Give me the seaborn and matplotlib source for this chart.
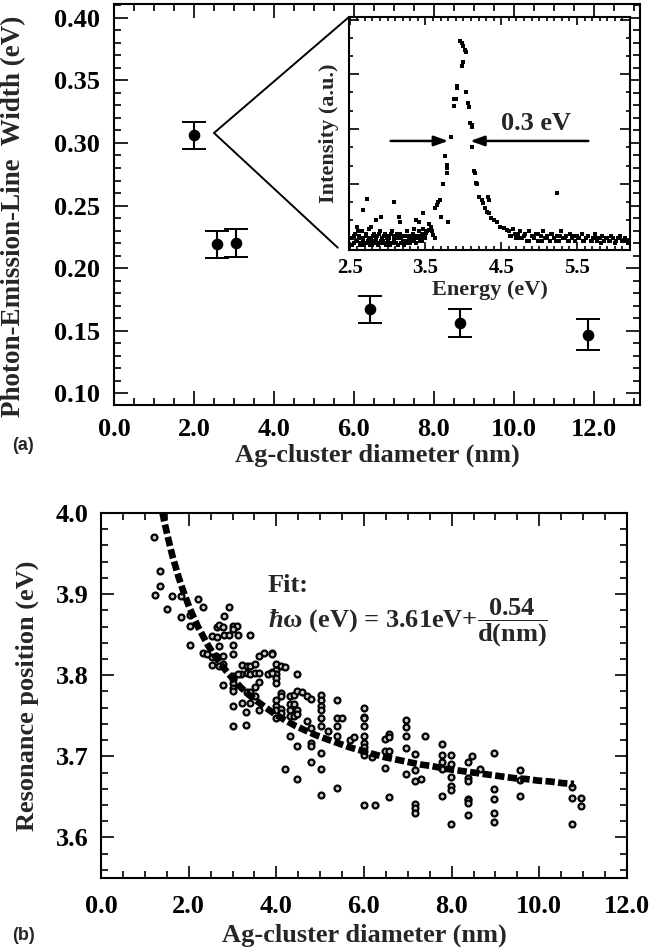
import numpy as np
import pandas as pd
import matplotlib
matplotlib.use("Agg")
import matplotlib.pyplot as plt
import seaborn as sns
from matplotlib.patches import ConnectionPatch
from matplotlib.ticker import MultipleLocator, FixedLocator, FormatStrFormatter

# ---------------- data ----------------
# panel (a): linewidth vs cluster diameter
diam_a = [2.00, 2.57, 3.05, 6.40, 8.65, 11.85]
width_a = [0.306, 0.219, 0.220, 0.167, 0.156, 0.147]
err_a = [0.0105, 0.011, 0.011, 0.011, 0.011, 0.012]

# inset: emission spectrum (energy eV, intensity a.u.)
spec_E = [3.96, 3.98, 4.00, 4.02, 4.03, 3.99, 3.98, 3.91, 3.92, 4.03, 3.88, 3.90, 4.06, 4.07,
          3.87, 4.09, 4.11, 4.12, 3.84, 4.12, 3.76, 3.78, 3.79, 3.78, 3.73, 4.14, 4.16, 4.17,
          4.18, 3.69, 3.67, 3.65, 3.63, 4.21, 4.24, 4.26, 4.33, 4.34, 4.28, 4.31, 4.34, 4.37,
          4.40, 4.44, 4.48, 4.53, 4.57, 3.80, 3.57, 3.54, 3.51, 3.47, 3.38, 3.42, 3.60, 3.62,
          3.15, 3.16, 3.08, 2.91, 2.85, 2.68, 2.73, 5.23, 2.60, 2.78, 3.35, 3.55, 3.58, 3.70]
spec_I = [0.895, 0.888, 0.874, 0.857, 0.848, 0.809, 0.791, 0.705, 0.695, 0.676, 0.648, 0.648,
          0.630, 0.613, 0.616, 0.547, 0.537, 0.526, 0.484, 0.444, 0.404, 0.365, 0.351, 0.332,
          0.284, 0.337, 0.330, 0.289, 0.284, 0.215, 0.208, 0.193, 0.179, 0.229, 0.215, 0.201,
          0.229, 0.215, 0.179, 0.165, 0.158, 0.136, 0.129, 0.122, 0.100, 0.093, 0.086, 0.122,
          0.097, 0.086, 0.072, 0.158, 0.129, 0.122, 0.064, 0.050, 0.143, 0.122, 0.208, 0.143,
          0.129, 0.172, 0.218, 0.244, 0.100, 0.100, 0.090, 0.110, 0.080, 0.140]
base_left_E = [2.52, 2.55, 2.57, 2.60, 2.62, 2.64, 2.66, 2.68, 2.70, 2.72, 2.74, 2.76, 2.78,
               2.80, 2.82, 2.84, 2.86, 2.88, 2.90, 2.92, 2.94, 2.96, 2.98, 3.00, 3.02, 3.04,
               3.06, 3.08, 3.10, 3.12, 3.14, 3.16, 3.18, 3.20, 3.22, 3.24, 3.26, 3.28, 3.30,
               3.32, 3.34, 3.36, 3.38, 3.40, 3.42, 3.44, 3.46, 3.48, 3.50,
               2.53, 2.56, 2.58, 2.61, 2.63, 2.65, 2.67, 2.69, 2.71, 2.73, 2.75, 2.77, 2.79,
               2.81, 2.83, 2.85, 2.87, 2.89, 2.91, 2.93, 2.95, 2.97, 2.99, 3.01, 3.03, 3.05,
               3.07, 3.09, 3.11, 3.13, 3.15, 3.17, 3.19, 3.21, 3.23, 3.25, 3.27, 3.29, 3.31,
               3.33, 3.35, 3.37, 3.39, 3.41, 3.43, 3.45, 3.47, 3.49, 3.52]
base_left_I = [0.05, 0.03, 0.07, 0.04, 0.06, 0.02, 0.08, 0.05, 0.03, 0.06, 0.04, 0.09, 0.05,
               0.02, 0.07, 0.04, 0.06, 0.03, 0.08, 0.05, 0.04, 0.07, 0.02, 0.06, 0.05, 0.03,
               0.08, 0.04, 0.06, 0.05, 0.02, 0.07, 0.05, 0.04, 0.06, 0.03, 0.08, 0.05, 0.06,
               0.04, 0.07, 0.05, 0.03, 0.06, 0.08, 0.05, 0.04, 0.07, 0.06,
               0.02, 0.06, 0.04, 0.08, 0.03, 0.05, 0.04, 0.02, 0.07, 0.03, 0.05, 0.02, 0.04,
               0.06, 0.03, 0.05, 0.02, 0.07, 0.04, 0.03, 0.06, 0.03, 0.05, 0.04, 0.02, 0.07,
               0.03, 0.05, 0.03, 0.07, 0.05, 0.03, 0.06, 0.02, 0.04, 0.06, 0.04, 0.03, 0.05,
               0.07, 0.04, 0.03, 0.06, 0.05, 0.04, 0.07, 0.09, 0.05, 0.08]
base_right_E = [4.60, 4.63, 4.66, 4.69, 4.72, 4.75, 4.78, 4.81, 4.84, 4.87, 4.90, 4.93, 4.96,
                4.99, 5.02, 5.05, 5.08, 5.11, 5.14, 5.17, 5.20, 5.23, 5.26, 5.29, 5.32, 5.35,
                5.38, 5.41, 5.44, 5.47, 5.50, 5.53, 5.56, 5.59, 5.62, 5.65, 5.68, 5.71, 5.74,
                5.77, 5.80, 5.83, 5.86, 5.89, 5.92, 5.95, 5.98, 6.01, 6.04, 6.07, 6.10, 6.13,
                6.16, 4.62, 4.68, 4.74, 4.80, 4.86, 4.92, 4.98, 5.04, 5.10, 5.16, 5.22, 5.28,
                5.34, 5.40, 5.46, 5.52, 5.58, 5.64, 5.70, 5.76, 5.82, 5.88, 5.94, 6.00, 6.06,
                6.12, 6.18]
base_right_I = [0.08, 0.06, 0.09, 0.05, 0.07, 0.08, 0.05, 0.07, 0.04, 0.08, 0.06, 0.05, 0.07,
                0.04, 0.06, 0.08, 0.05, 0.06, 0.04, 0.07, 0.05, 0.06, 0.04, 0.08, 0.05, 0.06,
                0.04, 0.07, 0.05, 0.04, 0.06, 0.05, 0.07, 0.04, 0.05, 0.06, 0.04, 0.05, 0.07,
                0.04, 0.05, 0.06, 0.04, 0.05, 0.04, 0.06, 0.05, 0.04, 0.05, 0.06, 0.04, 0.05,
                0.04, 0.06, 0.07, 0.05, 0.06, 0.04, 0.06, 0.07, 0.04, 0.05, 0.07, 0.04, 0.06,
                0.05, 0.04, 0.06, 0.05, 0.04, 0.06, 0.04, 0.05, 0.03, 0.05, 0.04, 0.03, 0.05,
                0.04, 0.03]
fwhm_lo, fwhm_hi, half_max = 3.80, 4.09, 0.468

# panel (b): resonance position vs diameter
diam_b = [1.21, 1.34, 1.34, 1.23, 1.51, 1.62, 1.82, 1.82, 2.02, 2.02, 2.22, 2.33, 2.02, 2.91,
          2.81, 2.64, 2.70, 2.79, 3.01, 3.11, 3.02, 2.81, 2.92, 3.13, 3.41, 2.54, 2.64, 2.70,
          3.02, 3.02, 2.33, 2.42, 2.54, 2.63, 2.79, 2.53, 2.79, 2.70, 2.79, 3.02, 3.02, 3.02,
          3.02, 3.02, 3.02, 3.02, 3.22, 3.32, 3.41, 3.51, 3.32, 3.41, 3.51, 3.61, 3.19, 3.12,
          3.61, 3.71, 3.89, 3.81, 3.89, 3.61, 3.51, 3.32, 3.41, 3.51, 3.22, 3.41, 3.30, 3.61,
          3.30,
          3.90, 3.99, 3.99, 3.99, 3.99, 3.99, 4.11, 4.20, 3.90, 4.11, 4.11, 3.99, 3.99, 3.99,
          3.99, 4.11, 4.11, 4.31, 4.41, 4.48, 4.58, 4.69, 4.79, 4.48, 4.31, 4.41, 4.31, 4.48,
          4.31, 4.41, 4.48, 4.31, 4.48, 4.69, 4.79, 4.79, 4.79, 4.79, 4.20, 4.48, 5.01, 5.01,
          5.01, 5.01, 5.01, 5.01, 5.01, 5.01, 5.01, 5.17, 5.39, 5.39, 5.49, 5.39, 5.39, 5.39,
          5.67, 5.78, 5.99, 5.99, 5.99, 5.99, 5.99, 5.99, 5.99, 5.99, 5.99, 5.99, 6.25, 6.19,
          6.48, 6.58, 6.58, 6.48, 6.58, 6.48, 6.58, 6.96, 6.96, 6.96, 6.96, 6.96, 7.17, 7.17,
          7.17, 7.17, 7.17, 7.17, 7.29, 7.40, 7.77, 7.77, 7.77, 7.77, 7.77,
          7.98, 7.98, 7.98, 7.98, 7.98, 7.98, 8.37, 8.37, 8.37, 8.37, 8.37, 8.37, 8.37, 8.46,
          8.64, 8.96, 8.96, 8.96, 8.96, 8.96, 9.55, 9.55, 9.55, 10.74, 10.74, 10.74, 10.95,
          10.95]
res_b = [3.970, 3.929, 3.910, 3.899, 3.882, 3.898, 3.898, 3.872, 3.874, 3.861, 3.894, 3.884,
         3.837, 3.884, 3.873, 3.860, 3.862, 3.860, 3.861, 3.861, 3.857, 3.850, 3.850, 3.849,
         3.849, 3.848, 3.847, 3.836, 3.837, 3.826, 3.827, 3.826, 3.823, 3.824, 3.824, 3.812,
         3.814, 3.811, 3.788, 3.799, 3.795, 3.790, 3.784, 3.780, 3.762, 3.738, 3.812, 3.811,
         3.811, 3.814, 3.803, 3.801, 3.803, 3.803, 3.801, 3.801, 3.824, 3.827, 3.827, 3.802,
         3.804, 3.792, 3.785, 3.779, 3.779, 3.774, 3.766, 3.766, 3.755, 3.757, 3.739,
         3.826, 3.814, 3.807, 3.802, 3.796, 3.790, 3.811, 3.810, 3.803, 3.778, 3.775, 3.770,
         3.762, 3.757, 3.747, 3.758, 3.753, 3.775, 3.776, 3.781, 3.779, 3.775, 3.771, 3.801,
         3.764, 3.764, 3.757, 3.757, 3.750, 3.750, 3.752, 3.725, 3.713, 3.743, 3.735, 3.717,
         3.713, 3.693, 3.684, 3.672, 3.776, 3.770, 3.762, 3.757, 3.747, 3.738, 3.704, 3.684,
         3.652, 3.731, 3.770, 3.747, 3.747, 3.738, 3.725, 3.661, 3.720, 3.724, 3.759, 3.749,
         3.747, 3.738, 3.725, 3.716, 3.711, 3.706, 3.702, 3.640, 3.640, 3.699, 3.721, 3.728,
         3.724, 3.686, 3.650, 3.706, 3.706, 3.745, 3.736, 3.725, 3.710, 3.678, 3.703, 3.683,
         3.670, 3.641, 3.636, 3.630, 3.672, 3.725, 3.715, 3.702, 3.693, 3.684, 3.651,
         3.702, 3.691, 3.675, 3.664, 3.658, 3.617, 3.693, 3.673, 3.669, 3.648, 3.646, 3.642,
         3.628, 3.701, 3.684, 3.704, 3.660, 3.648, 3.630, 3.619, 3.683, 3.671, 3.651, 3.662,
         3.649, 3.617, 3.649, 3.639]

# fit curve
fit_d = [1.40, 1.45, 1.51, 1.57, 1.63, 1.70, 1.77, 1.85, 1.93, 2.02, 2.11, 2.21, 2.32, 2.44,
         2.57, 2.71, 2.86, 3.02, 3.19, 3.37, 3.56, 3.76, 3.97, 4.19, 4.42, 4.66, 4.91, 5.16,
         5.42, 5.68, 5.94, 6.20, 6.47, 6.74, 7.01, 7.28, 7.55, 7.82, 8.09, 8.36, 8.63, 8.90,
         9.17, 9.44, 9.71, 9.98, 10.25, 10.52, 10.79]
fit_E = [4.001, 3.988, 3.974, 3.960, 3.947, 3.934, 3.921, 3.908, 3.896, 3.883, 3.872, 3.860,
         3.849, 3.837, 3.826, 3.815, 3.805, 3.795, 3.785, 3.776, 3.768, 3.760, 3.752, 3.745,
         3.738, 3.732, 3.726, 3.721, 3.716, 3.711, 3.707, 3.703, 3.699, 3.696, 3.693, 3.690,
         3.688, 3.685, 3.683, 3.681, 3.679, 3.677, 3.675, 3.673, 3.672, 3.670, 3.669, 3.667,
         3.666]

# ---------------- style ----------------
sns.set_theme(style="ticks")
plt.rcParams['font.family'] = ['Liberation Serif', 'DejaVu Serif']
plt.rcParams['font.weight'] = 'bold'
plt.rcParams['axes.labelweight'] = 'bold'
plt.rcParams['mathtext.fontset'] = 'custom'
plt.rcParams['mathtext.rm'] = 'Liberation Serif:bold'
plt.rcParams['mathtext.it'] = 'Liberation Serif:bold:italic'
plt.rcParams['mathtext.bf'] = 'Liberation Serif:bold'
plt.rcParams['axes.linewidth'] = 1.5
plt.rcParams['axes.edgecolor'] = 'black'
plt.rcParams['xtick.color'] = 'black'
plt.rcParams['ytick.color'] = 'black'

W, H = 652, 952
fig = plt.figure(figsize=(W / 100, H / 100), dpi=100)


def rect(l, t, r, b):
    return [l / W, 1 - b / H, (r - l) / W, (b - t) / H]


ax_a = fig.add_axes(rect(114, 4, 640, 405))
ax_in = fig.add_axes(rect(349, 17, 630, 250))
ax_b = fig.add_axes(rect(101, 513, 627, 878))

TICK_FS = 19
LAB_FS = 19


def style_ticks(ax, fs, maj=9, mino=5, xpad=10, ypad=10):
    ax.tick_params(which='both', direction='in', top=True, right=True, colors='black',
                   width=1.2)
    ax.tick_params(which='major', length=maj, labelsize=fs)
    ax.tick_params(axis='x', which='major', pad=xpad)
    ax.tick_params(axis='y', which='major', pad=ypad)
    ax.tick_params(which='minor', length=mino)
    for lab in ax.get_xticklabels() + ax.get_yticklabels():
        lab.set_fontweight('bold')
    for sp in ax.spines.values():
        sp.set_visible(True)
        sp.set_linewidth(1.5)
        sp.set_color('black')


# ---------------- panel (a) ----------------
dfa = pd.DataFrame({'d': diam_a, 'w': width_a, 'e': err_a})
ax_a.errorbar(dfa['d'], dfa['w'], yerr=dfa['e'], fmt='none', ecolor='black',
              elinewidth=1.5, capsize=8.5, capthick=1.4)
sns.scatterplot(data=dfa, x='d', y='w', ax=ax_a, color='black', s=70, marker='o',
                edgecolor='black', linewidth=0, zorder=3, legend=False)
ax_a.set_xlim(0, 13.15)
ax_a.set_ylim(0.0907, 0.411)
ax_a.xaxis.set_major_locator(MultipleLocator(2))
ax_a.xaxis.set_minor_locator(MultipleLocator(0.5))
ax_a.yaxis.set_major_locator(MultipleLocator(0.05))
ax_a.yaxis.set_minor_locator(MultipleLocator(0.01))
ax_a.xaxis.set_major_formatter(FormatStrFormatter('%.1f'))
ax_a.yaxis.set_major_formatter(FormatStrFormatter('%.2f'))
ax_a.set_xlabel('Ag-cluster diameter (nm)', fontsize=LAB_FS, fontweight='bold', labelpad=2)
ax_a.set_ylabel('Photon-Emission-Line  Width (eV)', fontsize=19.5, fontweight='bold')
ax_a.yaxis.set_label_coords(-0.168, 0.47)
style_ticks(ax_a, TICK_FS, maj=10, mino=5, xpad=9, ypad=10)

# ---------------- inset ----------------
dfs = pd.DataFrame({'E': spec_E + base_left_E + base_right_E,
                    'I': spec_I + base_left_I + base_right_I})
sns.scatterplot(data=dfs, x='E', y='I', ax=ax_in, color='black', marker='s', s=8,
                linewidth=0, legend=False)
ax_in.set_xlim(2.49, 6.2)
ax_in.set_ylim(0, 1.0)
ax_in.xaxis.set_major_locator(FixedLocator([2.5, 3.5, 4.5, 5.5]))
ax_in.xaxis.set_minor_locator(MultipleLocator(0.1))
ax_in.xaxis.set_major_formatter(FormatStrFormatter('%.1f'))
ax_in.yaxis.set_major_locator(FixedLocator([0.049, 0.284, 0.519, 0.754, 0.989]))
ax_in.yaxis.set_minor_locator(FixedLocator([0.127, 0.206, 0.362, 0.441, 0.597, 0.676,
                                            0.832, 0.911]))
ax_in.set_yticklabels([])
ax_in.set_xlabel('Energy (eV)', fontsize=16, fontweight='bold', labelpad=1)
ax_in.set_ylabel('Intensity (a.u.)', fontsize=16, fontweight='bold', labelpad=1)
style_ticks(ax_in, 15, maj=6, mino=3, xpad=6, ypad=6)
ax_in.tick_params(axis='y', which='major', length=7)
ax_in.patch.set_facecolor('white')
ax_in.annotate('', xy=(fwhm_lo, half_max), xytext=(3.04, half_max),
               arrowprops=dict(arrowstyle='-|>,head_length=0.7,head_width=0.25',
                               color='black', lw=1.8, shrinkA=0, shrinkB=0))
ax_in.annotate('', xy=(fwhm_hi, half_max), xytext=(5.65, half_max),
               arrowprops=dict(arrowstyle='-|>,head_length=0.7,head_width=0.25',
                               color='black', lw=1.8, shrinkA=0, shrinkB=0))
ax_in.text(4.96, 0.545, '0.3 eV', fontsize=19, fontweight='bold', ha='center', va='center')

# connecting "V" lines
vx, vy = 2.5, 0.308
for xy_in in [(0.0, 1.0), (-0.04, 0.01)]:
    con = ConnectionPatch(xyA=(vx, vy), coordsA=ax_a.transData,
                          xyB=xy_in, coordsB=ax_in.transAxes,
                          color='black', lw=1.4)
    fig.add_artist(con)

# ---------------- panel (b) ----------------
dfb = pd.DataFrame({'d': diam_b, 'E': res_b})
dff = pd.DataFrame({'d': fit_d, 'E': fit_E})
sns.scatterplot(data=dfb, x='d', y='E', ax=ax_b, marker='o', s=18, facecolor='#c8c8c8',
                edgecolor='black', linewidth=1.6, legend=False, zorder=2)
sns.lineplot(data=dff, x='d', y='E', ax=ax_b, color='black', linewidth=4.8,
             linestyle=(0, (1.4, 0.5)), dash_capstyle='butt', zorder=3,
             legend=False)
ax_b.set_xlim(0, 12)
ax_b.set_ylim(3.55, 4.0)
ax_b.xaxis.set_major_locator(MultipleLocator(2))
ax_b.xaxis.set_minor_locator(MultipleLocator(0.5))
ax_b.yaxis.set_major_locator(MultipleLocator(0.1))
ax_b.yaxis.set_minor_locator(MultipleLocator(0.02))
ax_b.xaxis.set_major_formatter(FormatStrFormatter('%.1f'))
ax_b.yaxis.set_major_formatter(FormatStrFormatter('%.1f'))
ax_b.set_xlabel('Ag-cluster diameter (nm)', fontsize=LAB_FS, fontweight='bold', labelpad=4)
ax_b.set_ylabel('Resonance position (eV)', fontsize=LAB_FS, fontweight='bold', labelpad=12)
style_ticks(ax_b, TICK_FS, maj=9, mino=5, xpad=12, ypad=9)

ax_b.text(3.8, 3.911, 'Fit:', fontsize=19, fontweight='bold', va='center', ha='left')
ax_b.text(3.8, 3.864, r'$\hbar$ω (eV) = 3.61eV+$\dfrac{\mathbf{0.54}}{\mathbf{d(nm)}}$',
          fontsize=19, fontweight='bold', va='center', ha='left')

fig.text(12 / W, 1 - 446 / H, '(a)', fontsize=13, fontweight='bold',
         family=['Liberation Sans', 'DejaVu Sans'], va='center', ha='left')
fig.text(12 / W, 1 - 935 / H, '(b)', fontsize=13, fontweight='bold',
         family=['Liberation Sans', 'DejaVu Sans'], va='center', ha='left')

fig.savefig('out.png', dpi=100, facecolor='white')
